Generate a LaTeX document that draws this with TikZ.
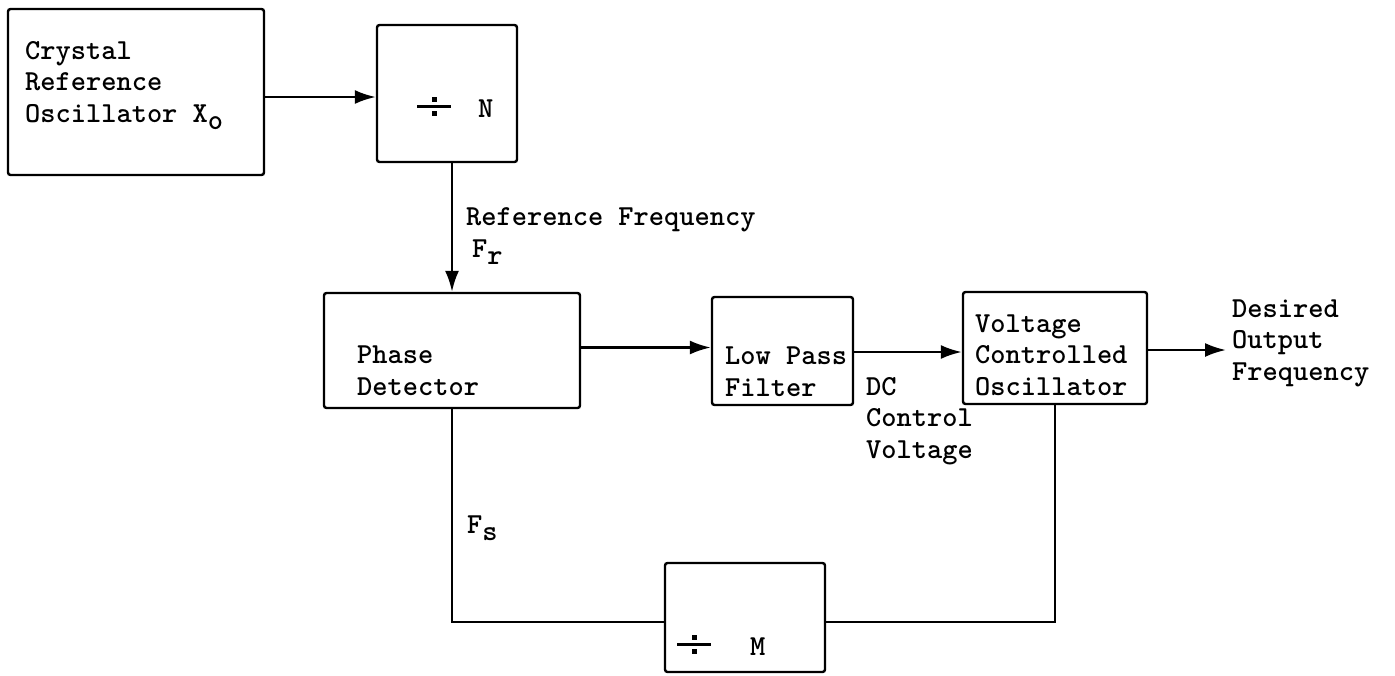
\documentclass[tikz,border=0pt]{standalone}
\usepackage{fontspec}
\usetikzlibrary{arrows.meta}
\tikzset{
  box/.style={draw, line width=2.4pt, rounded corners=2.5pt, inner sep=0pt},
  wire/.style={line width=2.4pt},
  arr/.style={wire, -{Latex[length=21pt,width=14pt]}},
  txt/.style={anchor=base west, inner sep=0pt, align=left, font=\ttfamily\bfseries\fontsize{29}{31.5}\selectfont}
}
\newcommand{\lowsub}[1]{\raisebox{-7pt}{#1}}
\newcommand{\bigdiv}{\makebox[34pt][l]{\raisebox{9pt}{\rule{34pt}{2.6pt}}\hspace{-19.5pt}\raisebox{15.5pt}{\rule{5pt}{5pt}}\hspace{-5pt}\raisebox{1.2pt}{\rule{5pt}{5pt}}}}
\begin{document}
\begin{tikzpicture}[x=1pt,y=-1pt]
\useasboundingbox (0,0) rectangle (1395,675);
% boxes
\node[box, minimum width=256pt, minimum height=166pt] (crystal) at (136,92) {};
\node[box, minimum width=140pt, minimum height=137pt] (divN) at (447,93.5) {};
\node[box, minimum width=256pt, minimum height=115pt] (pd) at (452,350.5) {};
\node[box, minimum width=141pt, minimum height=108pt] (lpf) at (782.5,351) {};
\node[box, minimum width=184pt, minimum height=112pt] (vco) at (1055,348) {};
\node[box, minimum width=160pt, minimum height=109pt] (divM) at (745,617.5) {};
\coordinate (out) at (1226,350);
% texts (anchor is baseline of last line)
\node[txt] (tcrystal) at (25,122) {Crystal\\Reference\\Oscillator X\lowsub{o}};
\node[txt] (tdivN) at (417,117) {\bigdiv\hspace{27pt}N};
\node[txt] (tdivM) at (677,655) {\bigdiv\hspace{39pt}M};
\node[txt] (tref) at (466,257) {Reference Frequency\\\hspace{6pt}F\lowsub{r}};
\node[txt] (tpd) at (357,395) {Phase\\Detector};
\node[txt] (tlpf) at (725,396) {Low Pass\\Filter};
\node[txt] (tvco) at (975,395) {Voltage\\Controlled\\Oscillator};
\node[txt] (tout) at (1232,380) {Desired\\Output\\Frequency};
\node[txt] (tdc) at (866,458) {DC\\Control\\Voltage};
\node[txt] (tfs) at (467,533) {F\lowsub{s}};
% connectors
\draw[arr] ([yshift=-5pt]crystal.east) -- ([yshift=-5pt]crystal.east -| divN.west);
\draw[arr] (divN.south -| pd.north) -- (pd.north);
\draw[arr] ([yshift=3pt]pd.east) -- ([yshift=3pt]pd.east -| lpf.west);
\draw[arr] ([yshift=-1pt]lpf.east) -- ([yshift=-1pt]lpf.east -| vco.west);
\draw[arr] ([yshift=-2pt]vco.east) -- (out);
\draw[wire] (pd.south) |- ([yshift=-4.5pt]divM.west);
\draw[wire] (vco.south) |- ([yshift=-4.5pt]divM.east);
\end{tikzpicture}
\end{document}
